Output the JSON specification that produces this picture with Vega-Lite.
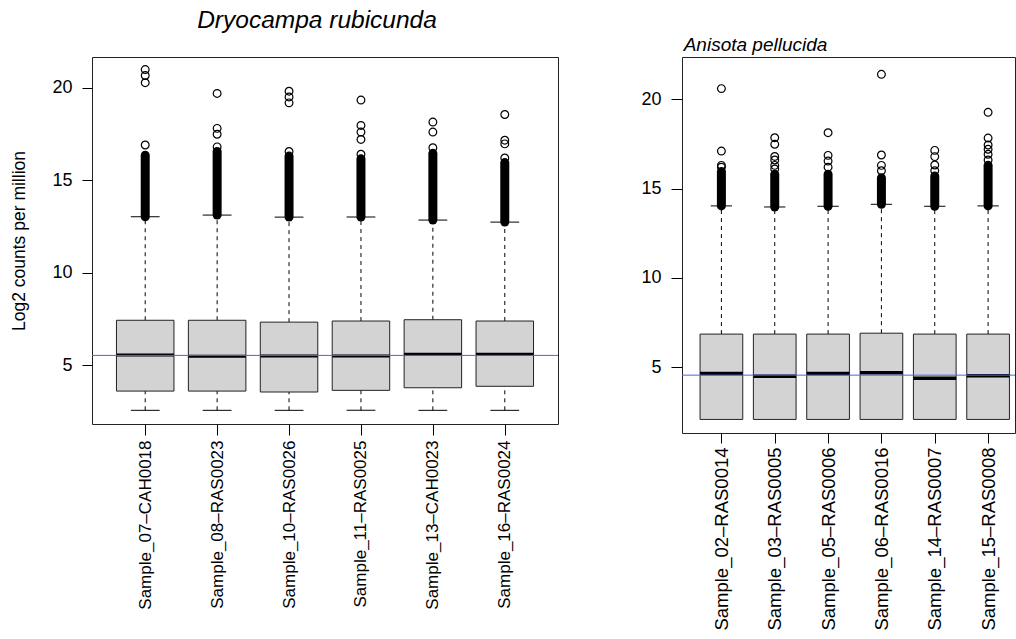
{
  "$schema": "https://vega.github.io/schema/vega-lite/v6.json",
  "background": "white",
  "padding": {"left": 10, "top": 7, "right": 0, "bottom": 0},
  "bounds": "flush",
  "spacing": 124,
  "config": {
    "view": {"stroke": "#222", "strokeWidth": 1},
    "font": "Liberation Sans",
    "axis": {"labelFont": "Liberation Sans", "titleFont": "Liberation Sans", "labelColor": "#000", "titleColor": "#000", "tickColor": "#000", "titleFontWeight": "normal", "grid": false, "domain": false, "titleFontSize": 17.5},
    "title": {"font": "Liberation Sans", "color": "#000", "fontWeight": "normal", "fontStyle": "italic"}
  },
  "datasets": {
    "drub": [
      {"sample": "Sample_07–CAH0018", "lo": 2.55, "q1": 3.59, "med": 5.54, "q3": 7.42, "hi": 13.02, "dtop": 16.35},
      {"sample": "Sample_08–RAS0023", "lo": 2.55, "q1": 3.59, "med": 5.47, "q3": 7.42, "hi": 13.11, "dtop": 16.55},
      {"sample": "Sample_10–RAS0026", "lo": 2.55, "q1": 3.54, "med": 5.49, "q3": 7.32, "hi": 13.0, "dtop": 16.3},
      {"sample": "Sample_11–RAS0025", "lo": 2.55, "q1": 3.63, "med": 5.49, "q3": 7.38, "hi": 13.0, "dtop": 16.15},
      {"sample": "Sample_13–CAH0023", "lo": 2.55, "q1": 3.77, "med": 5.58, "q3": 7.45, "hi": 12.84, "dtop": 16.45},
      {"sample": "Sample_16–RAS0024", "lo": 2.55, "q1": 3.85, "med": 5.58, "q3": 7.38, "hi": 12.73, "dtop": 15.95}
    ],
    "drub_out": [
      {"sample": "Sample_07–CAH0018", "value": 16.9},
      {"sample": "Sample_07–CAH0018", "value": 20.27},
      {"sample": "Sample_07–CAH0018", "value": 20.66},
      {"sample": "Sample_07–CAH0018", "value": 20.98},
      {"sample": "Sample_08–RAS0023", "value": 16.8},
      {"sample": "Sample_08–RAS0023", "value": 17.48},
      {"sample": "Sample_08–RAS0023", "value": 17.8},
      {"sample": "Sample_08–RAS0023", "value": 19.69},
      {"sample": "Sample_10–RAS0026", "value": 16.55},
      {"sample": "Sample_10–RAS0026", "value": 19.18},
      {"sample": "Sample_10–RAS0026", "value": 19.5},
      {"sample": "Sample_10–RAS0026", "value": 19.81},
      {"sample": "Sample_11–RAS0025", "value": 16.4},
      {"sample": "Sample_11–RAS0025", "value": 17.2},
      {"sample": "Sample_11–RAS0025", "value": 17.6},
      {"sample": "Sample_11–RAS0025", "value": 17.96},
      {"sample": "Sample_11–RAS0025", "value": 19.33},
      {"sample": "Sample_13–CAH0023", "value": 16.75},
      {"sample": "Sample_13–CAH0023", "value": 17.6},
      {"sample": "Sample_13–CAH0023", "value": 18.14},
      {"sample": "Sample_16–RAS0024", "value": 16.2},
      {"sample": "Sample_16–RAS0024", "value": 16.96},
      {"sample": "Sample_16–RAS0024", "value": 17.16},
      {"sample": "Sample_16–RAS0024", "value": 18.55}
    ],
    "drub_ref": [{"value": 5.52}],
    "apel": [
      {"sample": "Sample_02–RAS0014", "lo": 2.07, "q1": 2.07, "med": 4.64, "q3": 6.85, "hi": 14.03, "dtop": 15.95},
      {"sample": "Sample_03–RAS0005", "lo": 2.07, "q1": 2.07, "med": 4.49, "q3": 6.85, "hi": 13.97, "dtop": 15.8},
      {"sample": "Sample_05–RAS0006", "lo": 2.07, "q1": 2.07, "med": 4.64, "q3": 6.85, "hi": 14.01, "dtop": 15.8},
      {"sample": "Sample_06–RAS0016", "lo": 2.07, "q1": 2.07, "med": 4.68, "q3": 6.9, "hi": 14.12, "dtop": 15.6},
      {"sample": "Sample_14–RAS0007", "lo": 2.07, "q1": 2.07, "med": 4.38, "q3": 6.85, "hi": 14.01, "dtop": 15.7},
      {"sample": "Sample_15–RAS0008", "lo": 2.07, "q1": 2.07, "med": 4.51, "q3": 6.85, "hi": 14.03, "dtop": 16.3}
    ],
    "apel_out": [
      {"sample": "Sample_02–RAS0014", "value": 16.2},
      {"sample": "Sample_02–RAS0014", "value": 16.3},
      {"sample": "Sample_02–RAS0014", "value": 17.1},
      {"sample": "Sample_02–RAS0014", "value": 20.6},
      {"sample": "Sample_03–RAS0005", "value": 16.1},
      {"sample": "Sample_03–RAS0005", "value": 16.3},
      {"sample": "Sample_03–RAS0005", "value": 16.6},
      {"sample": "Sample_03–RAS0005", "value": 16.8},
      {"sample": "Sample_03–RAS0005", "value": 17.48},
      {"sample": "Sample_03–RAS0005", "value": 17.85},
      {"sample": "Sample_05–RAS0006", "value": 16.2},
      {"sample": "Sample_05–RAS0006", "value": 16.54},
      {"sample": "Sample_05–RAS0006", "value": 16.86},
      {"sample": "Sample_05–RAS0006", "value": 18.13},
      {"sample": "Sample_06–RAS0016", "value": 16.0},
      {"sample": "Sample_06–RAS0016", "value": 16.3},
      {"sample": "Sample_06–RAS0016", "value": 16.88},
      {"sample": "Sample_06–RAS0016", "value": 21.4},
      {"sample": "Sample_14–RAS0007", "value": 16.0},
      {"sample": "Sample_14–RAS0007", "value": 16.32},
      {"sample": "Sample_14–RAS0007", "value": 16.79},
      {"sample": "Sample_14–RAS0007", "value": 17.14},
      {"sample": "Sample_15–RAS0008", "value": 16.6},
      {"sample": "Sample_15–RAS0008", "value": 16.92},
      {"sample": "Sample_15–RAS0008", "value": 17.2},
      {"sample": "Sample_15–RAS0008", "value": 17.44},
      {"sample": "Sample_15–RAS0008", "value": 17.83},
      {"sample": "Sample_15–RAS0008", "value": 19.27}
    ],
    "apel_ref": [{"value": 4.55}]
  },
  "hconcat": [
    {
      "width": 466,
      "height": 367,
      "title": {"text": "Dryocampa rubicunda", "fontSize": 24.5, "offset": 24, "dx": -8, "dy": 24, "baseline": "bottom"},
      "data": {"name": "drub"},
      "layer": [
        {
          "mark": {"type": "rule", "strokeDash": [4, 4], "color": "#000", "strokeWidth": 1},
          "encoding": {
            "x": {"field": "sample", "type": "nominal", "title": null,
                  "scale": {"type": "point", "padding": 0.74, "domain": ["Sample_07–CAH0018", "Sample_08–RAS0023", "Sample_10–RAS0026", "Sample_11–RAS0025", "Sample_13–CAH0023", "Sample_16–RAS0024"]},
                  "axis": {"title": null, "labelAngle": -90, "labelFontSize": 17, "labelPadding": 5, "tickSize": 11, "labelLimit": 400, "domain": false}},
            "y": {"field": "q3", "type": "quantitative", "title": "Log2 counts per million",
                  "scale": {"domain": [1.81, 21.66], "nice": false, "zero": false},
                  "axis": {"values": [5, 10, 15, 20], "title": "Log2 counts per million", "titlePadding": 23, "labelFontSize": 18, "tickSize": 10, "labelPadding": 10, "domain": false}},
            "y2": {"field": "hi"}
          }
        },
        {
          "mark": {"type": "rule", "strokeDash": [4, 4], "color": "#000", "strokeWidth": 1},
          "encoding": {
            "x": {"field": "sample", "type": "nominal", "title": null},
            "y": {"field": "lo", "type": "quantitative", "title": "Log2 counts per million"},
            "y2": {"field": "q1"}
          }
        },
        {
          "mark": {"type": "bar", "width": 57.5, "fill": "#D3D3D3", "stroke": "#222", "strokeWidth": 1},
          "encoding": {
            "x": {"field": "sample", "type": "nominal", "title": null},
            "y": {"field": "q1", "type": "quantitative", "title": "Log2 counts per million"},
            "y2": {"field": "q3"}
          }
        },
        {
          "mark": {"type": "tick", "size": 57.5, "thickness": 3, "color": "#000", "opacity": 1},
          "encoding": {
            "x": {"field": "sample", "type": "nominal", "title": null},
            "y": {"field": "med", "type": "quantitative", "title": "Log2 counts per million"}
          }
        },
        {
          "mark": {"type": "tick", "size": 28.8, "thickness": 1, "color": "#000", "opacity": 1},
          "encoding": {
            "x": {"field": "sample", "type": "nominal", "title": null},
            "y": {"field": "hi", "type": "quantitative", "title": "Log2 counts per million"}
          }
        },
        {
          "mark": {"type": "tick", "size": 28.8, "thickness": 1, "color": "#000", "opacity": 1},
          "encoding": {
            "x": {"field": "sample", "type": "nominal", "title": null},
            "y": {"field": "lo", "type": "quantitative", "title": "Log2 counts per million"}
          }
        },
        {
          "mark": {"type": "rule", "strokeWidth": 9, "strokeCap": "round", "color": "#000"},
          "encoding": {
            "x": {"field": "sample", "type": "nominal", "title": null},
            "y": {"field": "hi", "type": "quantitative", "title": "Log2 counts per million"},
            "y2": {"field": "dtop"}
          }
        },
        {
          "data": {"name": "drub_out"},
          "mark": {"type": "point", "filled": false, "size": 60, "strokeWidth": 1.2, "color": "#000", "opacity": 1},
          "encoding": {
            "x": {"field": "sample", "type": "nominal", "title": null},
            "y": {"field": "value", "type": "quantitative", "title": "Log2 counts per million"}
          }
        },
        {
          "data": {"name": "drub_ref"},
          "mark": {"type": "rule", "color": "#4169E1", "strokeWidth": 1},
          "encoding": {
            "y": {"field": "value", "type": "quantitative", "title": "Log2 counts per million"}
          }
        }
      ]
    },
    {
      "width": 333,
      "height": 376,
      "title": {"text": "Anisota pellucida", "fontSize": 19, "offset": 1, "dx": -93, "dy": 17.5, "baseline": "bottom"},
      "data": {"name": "apel"},
      "layer": [
        {
          "mark": {"type": "rule", "strokeDash": [4, 4], "color": "#000", "strokeWidth": 1},
          "encoding": {
            "x": {"field": "sample", "type": "nominal", "title": null,
                  "scale": {"type": "point", "range": [39.4, 306.1], "padding": 0, "domain": ["Sample_02–RAS0014", "Sample_03–RAS0005", "Sample_05–RAS0006", "Sample_06–RAS0016", "Sample_14–RAS0007", "Sample_15–RAS0008"]},
                  "axis": {"title": null, "labelAngle": -90, "labelFontSize": 18.5, "labelPadding": 4, "tickSize": 10, "labelLimit": 400, "domain": false}},
            "y": {"field": "q3", "type": "quantitative", "title": null,
                  "scale": {"domain": [1.31, 22.37], "nice": false, "zero": false},
                  "axis": {"values": [5, 10, 15, 20], "title": null, "labelFontSize": 18, "tickSize": 11, "labelPadding": 10, "domain": false}},
            "y2": {"field": "hi"}
          }
        },
        {
          "mark": {"type": "bar", "width": 42.7, "fill": "#D3D3D3", "stroke": "#222", "strokeWidth": 1},
          "encoding": {
            "x": {"field": "sample", "type": "nominal", "title": null},
            "y": {"field": "q1", "type": "quantitative", "title": null},
            "y2": {"field": "q3"}
          }
        },
        {
          "mark": {"type": "tick", "size": 42.7, "thickness": 3.5, "color": "#000", "opacity": 1},
          "encoding": {
            "x": {"field": "sample", "type": "nominal", "title": null},
            "y": {"field": "med", "type": "quantitative", "title": null}
          }
        },
        {
          "mark": {"type": "tick", "size": 21.3, "thickness": 1, "color": "#000", "opacity": 1},
          "encoding": {
            "x": {"field": "sample", "type": "nominal", "title": null},
            "y": {"field": "hi", "type": "quantitative", "title": null}
          }
        },
        {
          "mark": {"type": "rule", "strokeWidth": 9, "strokeCap": "round", "color": "#000"},
          "encoding": {
            "x": {"field": "sample", "type": "nominal", "title": null},
            "y": {"field": "hi", "type": "quantitative", "title": null},
            "y2": {"field": "dtop"}
          }
        },
        {
          "data": {"name": "apel_out"},
          "mark": {"type": "point", "filled": false, "size": 60, "strokeWidth": 1.2, "color": "#000", "opacity": 1},
          "encoding": {
            "x": {"field": "sample", "type": "nominal", "title": null},
            "y": {"field": "value", "type": "quantitative", "title": null}
          }
        },
        {
          "data": {"name": "apel_ref"},
          "mark": {"type": "rule", "color": "#4169E1", "strokeWidth": 1},
          "encoding": {
            "y": {"field": "value", "type": "quantitative", "title": null}
          }
        }
      ]
    }
  ]
}
